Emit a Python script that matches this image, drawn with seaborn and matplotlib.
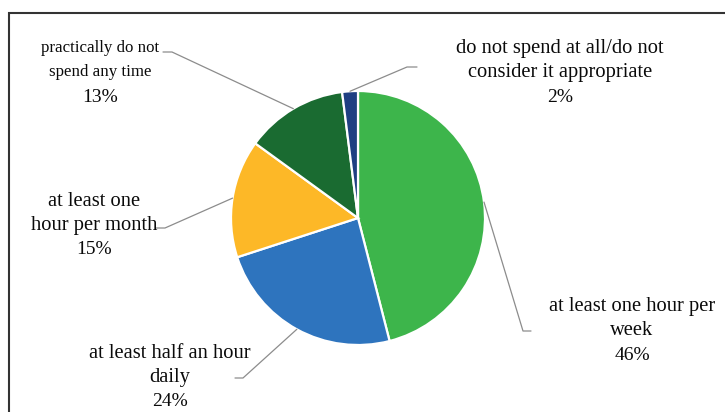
import numpy as np
import matplotlib
matplotlib.use("Agg")
import matplotlib.pyplot as plt
import seaborn as sns
from matplotlib.lines import Line2D
from matplotlib.patches import Rectangle

# ---- data ----
categories = ["at least one hour per\nweek", "at least half an hour\ndaily",
              "at least one\nhour per month", "practically do not\nspend any time",
              "do not spend at all/do not\nconsider it appropriate"]
values = [46, 24, 15, 13, 2]
pct_labels = ["46%", "24%", "15%", "13%", "2%"]
colors = ["#3DB54B", "#2E74BE", "#FDB827", "#1A6B31", "#1F3F82"]

# ---- layout (pixels in a 725x412 image) ----
W, H = 725, 412
CX, CY, R = 358, 218, 127
label_pos = [(632, 306), (170, 353), (94, 201), (100, 48), (560, 48)]
elbow_pos = [(523, 331), (243, 378), (165, 228), (172, 52), (407, 67)]
end_pos = [(531, 331), (235, 378), (156, 228), (163, 52), (417, 67)]
label_sizes = [14.8, 14.8, 14.8, 12.2, 14.8]

sns.set_theme(style="white")
plt.rcParams["font.family"] = ["Liberation Serif", "DejaVu Serif"]

fig = plt.figure(figsize=(W / 100, H / 100), dpi=100)
fig.patch.set_facecolor("white")
ax = fig.add_axes([(CX - R) / W, (H - CY - R) / H, 2 * R / W, 2 * R / H])
ax.axis("off")

wedges, _ = ax.pie(values, colors=colors, startangle=90, counterclock=False,
                   radius=1, wedgeprops=dict(edgecolor="white", linewidth=1.6))
ax.set_xlim(-1, 1)
ax.set_ylim(-1, 1)


def px2d(p):
    return ((p[0] - CX) / R, (CY - p[1]) / R)


for w, cat, pct, lp, ep, en, fs in zip(wedges, categories, pct_labels,
                                      label_pos, elbow_pos, end_pos, label_sizes):
    mid = np.deg2rad((w.theta1 + w.theta2) / 2)
    sx, sy = np.cos(mid), np.sin(mid)
    ex, ey = px2d(ep)
    nx, ny = px2d(en)
    ax.add_line(Line2D([sx, ex, nx], [sy, ey, ny], color="#8c8c8c", lw=0.9,
                       clip_on=False))
    x, y = px2d(lp)
    lines = cat.split("\n") + [pct]
    for i, t in enumerate(lines):
        size = fs if i < 2 else 14
        ax.text(x, y - i * 24.5 / R, t, ha="center", va="center",
                fontsize=size, color="#0a0a0a", clip_on=False)

# frame
fig.add_artist(Rectangle((9 / W, -0.1), 1.2, (H - 13) / H + 0.1,
                         transform=fig.transFigure, fill=False,
                         edgecolor="#333333", lw=1.5))

fig.savefig("out.png", dpi=100)
